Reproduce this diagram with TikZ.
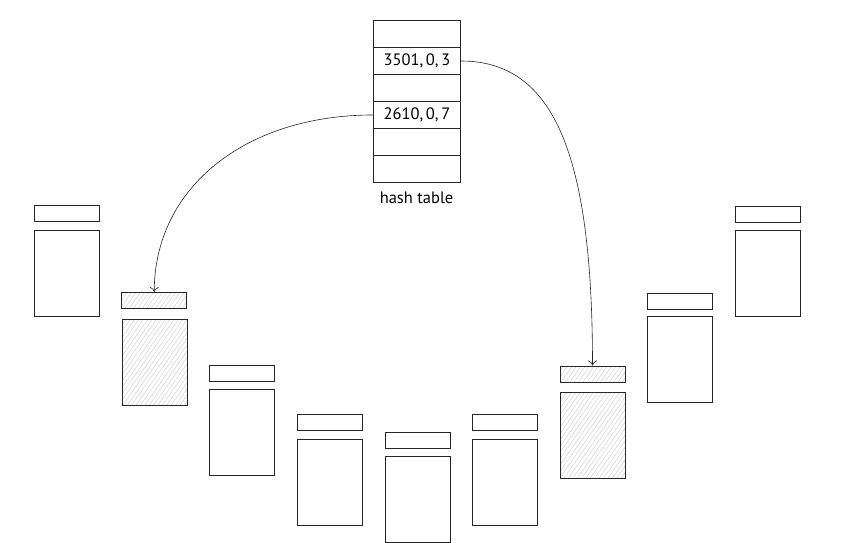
\documentclass[tikz,border=0pt]{standalone}
\usepackage{fontspec}
\setmainfont{PT Sans}
\usetikzlibrary{patterns.meta,arrows.meta}
\begin{document}
\begin{tikzpicture}[x=1pt,y=-1pt,
  box/.style={draw=black!85,line width=1pt,inner sep=0pt,anchor=north west,minimum width=65pt},
  hdr/.style={box,minimum height=16pt},
  bdy/.style={box,minimum height=86pt},
  hatch/.style={pattern={Lines[angle=55,distance=3.6pt,line width=0.5pt]},pattern color=black!18},
  row/.style={draw=black!85,line width=1pt,inner sep=0pt,minimum width=87pt,minimum height=27pt,anchor=north west,font=\fontsize{16.5}{16.5}\selectfont},
  link/.style={line width=0.6pt,black!85,-{To[length=5pt,width=9pt]}}]
\useasboundingbox (0,0) rectangle (848,543);
% hash table
\node[row] (r1) at (373,20) {};
\node[row] (r2) at (373,47) {3501,\,0,\,3};
\node[row] (r3) at (373,74) {};
\node[row] (r4) at (373,101) {2610,\,0,\,7};
\node[row] (r5) at (373,128) {};
\node[row] (r6) at (373,155) {};
\node[font=\fontsize{16.5}{16.5}\selectfont] (lbl) at (416.5,198) {hash table};
% columns
\node[hdr] (h1) at (34,205) {};
\node[bdy] (b1) at (34,230) {};
\node[hdr,hatch] (h2) at (121.5,292) {};
\node[bdy,hatch] (b2) at (121.5,318.5) {};
\node[hdr] (h3) at (209,365) {};
\node[bdy] (b3) at (209,389) {};
\node[hdr] (h4) at (296.5,414) {};
\node[bdy] (b4) at (296.5,438.5) {};
\node[hdr] (h5) at (384.5,432) {};
\node[bdy] (b5) at (384.5,455.5) {};
\node[hdr] (h6) at (471.5,414) {};
\node[bdy] (b6) at (471.5,438.5) {};
\node[hdr,hatch] (h7) at (559.5,365.5) {};
\node[bdy,hatch] (b7) at (559.5,392) {};
\node[hdr] (h8) at (647,292.5) {};
\node[bdy] (b8) at (647,316) {};
\node[hdr] (h9) at (735,205.5) {};
\node[bdy] (b9) at (735,229.5) {};
% links
\draw[link] (r2.east) .. controls +(93,0) and +(0,-211) .. (h7.north);
\draw[link] (r4.west) .. controls +(-128,0) and +(0,-104) .. (h2.north);
\end{tikzpicture}
\end{document}
